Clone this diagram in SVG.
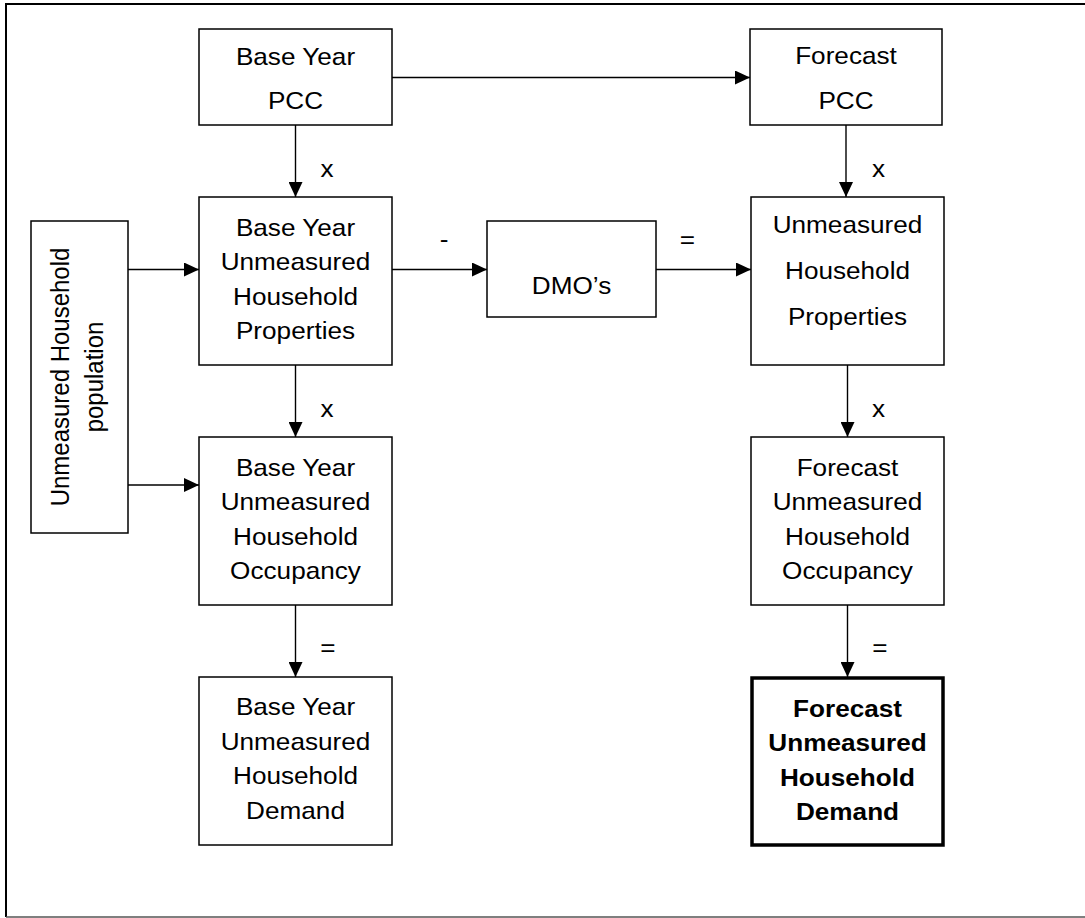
<svg xmlns="http://www.w3.org/2000/svg" width="1085" height="918" viewBox="0 0 1085 918">
<defs>
<marker id="ah" markerUnits="userSpaceOnUse" markerWidth="15" markerHeight="14" refX="15" refY="7" orient="auto">
<path d="M0,0 L15,7 L0,14 Z" fill="#000"/>
</marker>
<style>
.box{fill:#fff;stroke:#000;stroke-width:1.5}
.bold{fill:#fff;stroke:#000;stroke-width:3.5}
.t{font-family:"Liberation Sans",Arial,sans-serif;font-size:24px;fill:#000;text-anchor:middle}
.b{font-weight:bold}
.c{stroke:#000;stroke-width:1.4;fill:none;marker-end:url(#ah)}
</style>
</defs>
<rect width="1085" height="918" fill="#fff"/>
<g id="frame" fill="none">
<path d="M6,917 V4 H1085" stroke="#000" stroke-width="2"/>
<path d="M6,917 H1085" stroke="#555" stroke-width="1.5"/>
</g>

<g id="connectors">
<line class="c" x1="392" y1="77.5" x2="750" y2="77.5"/>
<line class="c" x1="295.5" y1="125" x2="295.5" y2="197"/>
<line class="c" x1="846" y1="125" x2="846" y2="197"/>
<line class="c" x1="128" y1="269.5" x2="199" y2="269.5"/>
<line class="c" x1="128" y1="485" x2="199" y2="485"/>
<line class="c" x1="392" y1="269.5" x2="487" y2="269.5"/>
<line class="c" x1="656" y1="269.5" x2="751" y2="269.5"/>
<line class="c" x1="295.5" y1="365" x2="295.5" y2="437"/>
<line class="c" x1="847.5" y1="365" x2="847.5" y2="437"/>
<line class="c" x1="295.5" y1="605" x2="295.5" y2="677"/>
<line class="c" x1="847.5" y1="605" x2="847.5" y2="677"/>
<text class="t" transform="translate(327 177) scale(1.09 1)">x</text>
<text class="t" transform="translate(878.5 177) scale(1.09 1)">x</text>
<text class="t" transform="translate(444 247) scale(1.09 1)">-</text>
<text class="t" transform="translate(687.5 248) scale(1.09 1)">=</text>
<text class="t" transform="translate(327 416.5) scale(1.09 1)">x</text>
<text class="t" transform="translate(878.5 416.5) scale(1.09 1)">x</text>
<text class="t" transform="translate(328 656) scale(1.09 1)">=</text>
<text class="t" transform="translate(880 656) scale(1.09 1)">=</text>
</g>

<g id="base-pcc">
<rect class="box" x="199" y="29" width="193" height="96"/>
<text class="t" transform="translate(295.5 65) scale(1.09 1)">Base Year</text>
<text class="t" transform="translate(295.5 109) scale(1.09 1)">PCC</text>
</g>

<g id="forecast-pcc">
<rect class="box" x="750" y="29" width="192" height="96"/>
<text class="t" transform="translate(846 64) scale(1.09 1)">Forecast</text>
<text class="t" transform="translate(846 109) scale(1.09 1)">PCC</text>
</g>

<g id="population">
<rect class="box" x="31" y="221" width="97" height="312"/>
<text class="t" transform="translate(69 377) rotate(-90) scale(1 1.09)">Unmeasured Household</text>
<text class="t" transform="translate(103 377) rotate(-90) scale(1 1.09)">population</text>
</g>

<g id="base-properties">
<rect class="box" x="199" y="197" width="193" height="168"/>
<text class="t" transform="translate(295.5 235.5) scale(1.09 1)">Base Year</text>
<text class="t" transform="translate(295.5 270) scale(1.09 1)">Unmeasured</text>
<text class="t" transform="translate(295.5 304.5) scale(1.09 1)">Household</text>
<text class="t" transform="translate(295.5 339) scale(1.09 1)">Properties</text>
</g>

<g id="dmos">
<rect class="box" x="487" y="221" width="169" height="96"/>
<text class="t" transform="translate(571.5 294) scale(1.09 1)">DMO’s</text>
</g>

<g id="forecast-properties">
<rect class="box" x="751" y="197" width="193" height="168"/>
<text class="t" transform="translate(847.5 233) scale(1.09 1)">Unmeasured</text>
<text class="t" transform="translate(847.5 279) scale(1.09 1)">Household</text>
<text class="t" transform="translate(847.5 325) scale(1.09 1)">Properties</text>
</g>

<g id="base-occupancy">
<rect class="box" x="199" y="437" width="193" height="168"/>
<text class="t" transform="translate(295.5 476) scale(1.09 1)">Base Year</text>
<text class="t" transform="translate(295.5 510) scale(1.09 1)">Unmeasured</text>
<text class="t" transform="translate(295.5 545) scale(1.09 1)">Household</text>
<text class="t" transform="translate(295.5 579) scale(1.09 1)">Occupancy</text>
</g>

<g id="forecast-occupancy">
<rect class="box" x="751" y="437" width="193" height="168"/>
<text class="t" transform="translate(847.5 476) scale(1.09 1)">Forecast</text>
<text class="t" transform="translate(847.5 510) scale(1.09 1)">Unmeasured</text>
<text class="t" transform="translate(847.5 545) scale(1.09 1)">Household</text>
<text class="t" transform="translate(847.5 579) scale(1.09 1)">Occupancy</text>
</g>

<g id="base-demand">
<rect class="box" x="199" y="677" width="193" height="168"/>
<text class="t" transform="translate(295.5 715) scale(1.09 1)">Base Year</text>
<text class="t" transform="translate(295.5 749.5) scale(1.09 1)">Unmeasured</text>
<text class="t" transform="translate(295.5 784) scale(1.09 1)">Household</text>
<text class="t" transform="translate(295.5 819) scale(1.09 1)">Demand</text>
</g>

<g id="forecast-demand">
<rect class="bold" x="752" y="678" width="191" height="167"/>
<text class="t b" transform="translate(847.5 716.5) scale(1.09 1)">Forecast</text>
<text class="t b" transform="translate(847.5 751) scale(1.09 1)">Unmeasured</text>
<text class="t b" transform="translate(847.5 785.5) scale(1.09 1)">Household</text>
<text class="t b" transform="translate(847.5 820) scale(1.09 1)">Demand</text>
</g>
</svg>
